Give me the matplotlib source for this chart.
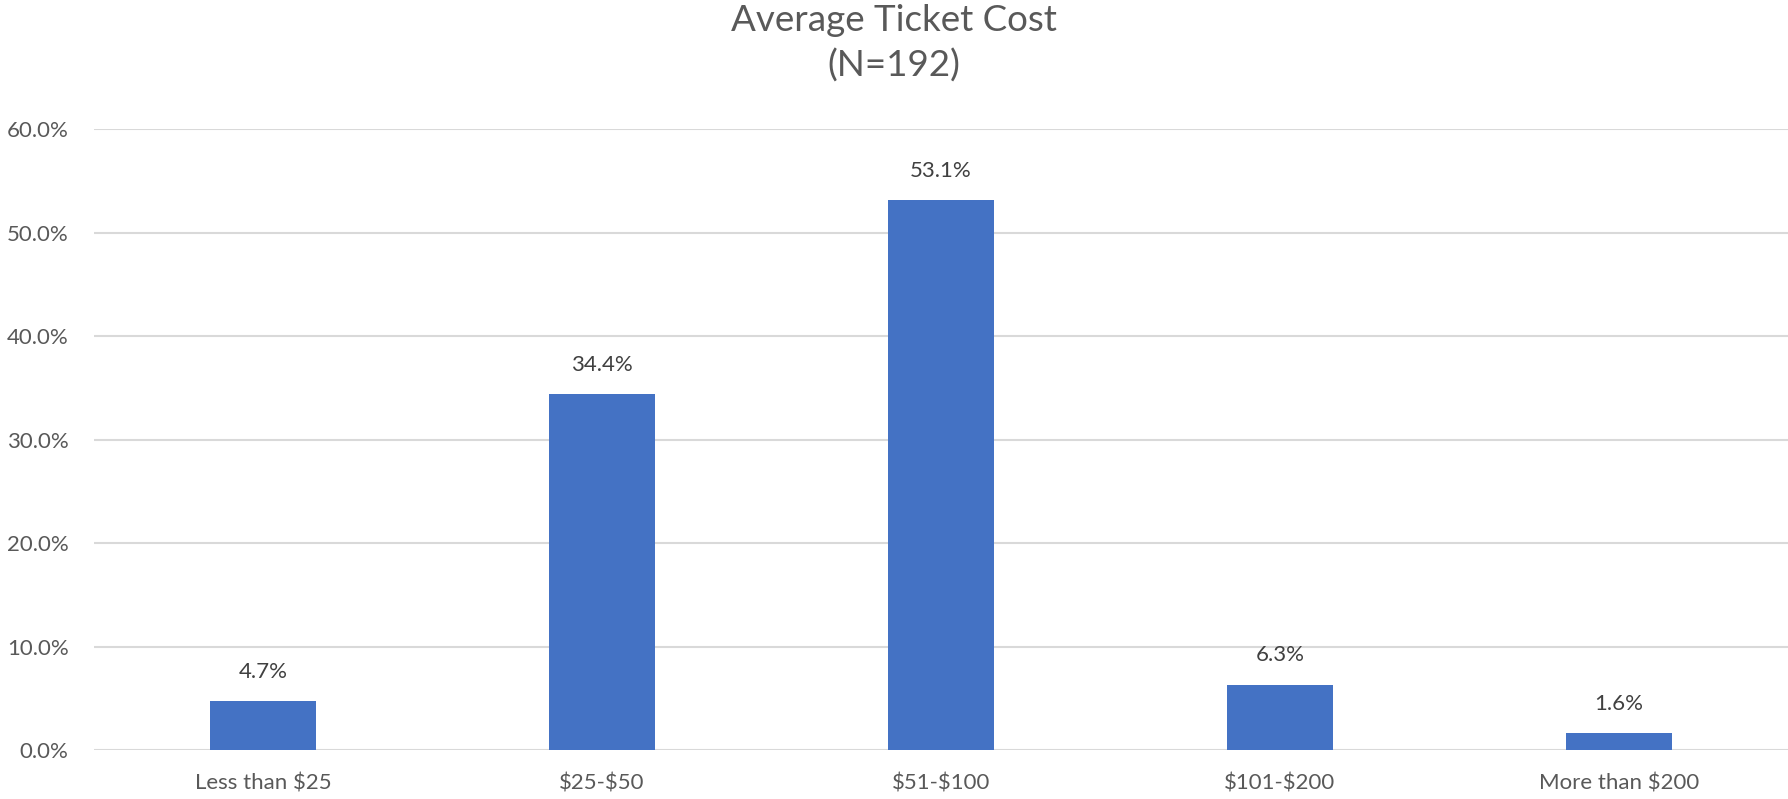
import matplotlib
matplotlib.use('Agg')
import matplotlib.pyplot as plt
import numpy as np

# ticket price brackets and share of respondents (%)
categories = ['Less than \\$25', '\\$25-\\$50', '\\$51-\\$100', '\\$101-\\$200', 'More than \\$200']
shares = [4.7, 34.4, 53.1, 6.3, 1.6]
yticks = [0, 10, 20, 30, 40, 50, 60]

plt.rcParams['font.family'] = ['Lato', 'DejaVu Sans']
txt = '#595959'

fig = plt.figure(figsize=(17.88, 7.99), dpi=100)
ax = fig.add_axes([0.0523, 0.0613, 0.948, 0.7772])

x = np.arange(len(categories))
ax.bar(x, shares, width=0.313, color='#4472C4', zorder=3)

for xi, v in zip(x, shares):
    ax.annotate('%.1f%%' % v, (xi, v), xytext=(0, 14), textcoords='offset points',
                ha='center', va='bottom', fontsize=16, color='#404040')

ax.set_xlim(-0.5, len(categories) - 0.5)
ax.set_ylim(0, 60)
ax.set_yticks(yticks)
ax.set_yticklabels(['%.1f%%' % t for t in yticks])
ax.set_xticks(x)
ax.set_xticklabels(categories)
ax.tick_params(axis='both', length=0, labelsize=16, labelcolor=txt)
ax.tick_params(axis='y', pad=18)
ax.tick_params(axis='x', pad=17)

ax.yaxis.grid(True, color='#D9D9D9', linewidth=1.5, zorder=0)
ax.set_axisbelow(True)
for s in ax.spines.values():
    s.set_visible(False)

fig.text(0.5, 0.995, 'Average Ticket Cost\n(N=192)', ha='center', va='top',
         fontsize=26.5, color=txt, linespacing=1.42)

fig.savefig('out.png', dpi=100)
